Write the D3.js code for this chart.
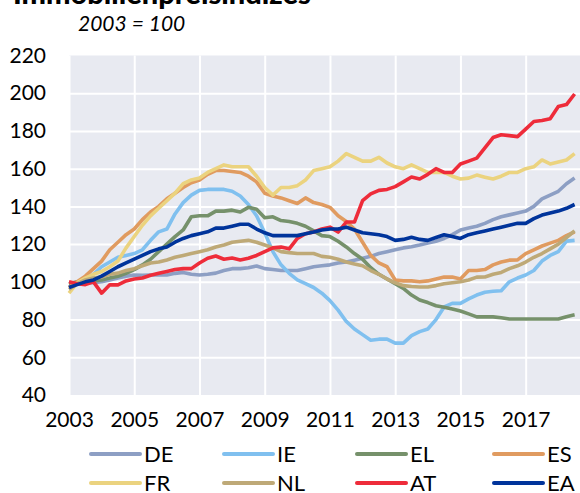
<!DOCTYPE html>
<html>
<head>
<meta charset="utf-8">
<script src="https://cdn.jsdelivr.net/npm/d3@7"></script>
<style>
  html, body { margin: 0; padding: 0; background: #ffffff; }
  svg { display: block; }
  text { font-family: Lato, "Open Sans", sans-serif; fill: #000; }
</style>
</head>
<body>
<div id="chart"></div>
<script>
// Residential property price indices, quarterly, 2003 = 100
const startYear = 2003;
const quarterCount = 63;
const yearTicks = [2003, 2005, 2007, 2009, 2011, 2013, 2015, 2017];
const valueTicks = [40, 60, 80, 100, 120, 140, 160, 180, 200, 220];

const seriesNames = ["DE", "IE", "EL", "ES", "FR", "NL", "AT", "EA"];
const seriesColors = ["#8d9fc4", "#80c0ef", "#76916b", "#e09b60", "#ebd37f", "#bea977", "#ee2c3a", "#00349b"];

const DE = [99, 99.5, 99.5, 99.5, 100, 101, 102, 103, 103.6, 103.5, 103.6, 103.6, 103.6, 104.5, 105, 104,
  103.6, 104, 104.6, 106, 107, 107, 107.5, 108.4, 107, 106.5, 106, 106, 106, 107, 108, 108.5,
  109, 110, 110.5, 111.5, 112.5, 113.5, 115, 116, 117, 118, 118.6, 119.5, 120.6, 121.5, 123, 125,
  127.5, 128.5, 129.5, 131, 133, 134.5, 135.5, 136.5, 137.5, 140, 144, 146, 148, 152, 155];
const IE = [97, 99, 101, 104, 108, 110.5, 113, 114, 115, 117, 122, 126.5, 128, 136, 142, 146,
  148.5, 149, 149, 149, 148, 145.5, 141, 135, 126, 116, 109, 104.5, 101, 99, 97, 94,
  90, 85, 79, 75, 72, 69, 69.6, 69.6, 67.5, 67.5, 71.5, 73.6, 75, 80, 86.7, 88.6,
  88.6, 91, 93, 94.5, 95, 95.3, 100, 102, 103.6, 106, 111, 114, 116, 121.6, 122];
const EL = [99, 100, 100, 100.5, 101, 102, 103, 104.5, 106.5, 109, 112, 116, 120, 124, 127.5, 134.5,
  135, 135, 137.5, 137.5, 138, 137, 139.5, 138.5, 134, 134.5, 132.5, 132, 131, 129.5, 127, 124.5,
  124, 121.5, 118.5, 115, 112, 107.5, 104, 101.5, 99, 96.5, 93, 90.4, 89, 87.3, 86.5, 85.6,
  84.5, 83, 81.4, 81.4, 81.4, 81, 80.3, 80.3, 80.3, 80.3, 80.3, 80.3, 80.3, 81.5, 82.5];
const ES = [97, 100, 103, 107, 111, 117, 121, 125, 128, 133, 137, 140, 144, 147, 150, 152.5,
  154, 157, 159, 159, 158.5, 158, 156, 153, 147, 145.5, 144.5, 143, 141.5, 144.5, 142, 141,
  139.5, 135, 132, 128, 121, 114, 110, 108, 101, 100.5, 100.5, 100, 100.5, 101.5, 102.5, 102.5,
  101.5, 106, 106, 106.5, 109, 110.5, 111.5, 111.6, 115, 117, 119, 120.5, 122, 124.5, 126.5];
const FR = [94, 99.5, 102, 104, 105.5, 108, 111, 118, 124, 130, 135, 139, 143, 147, 152, 154,
  155, 158, 160, 162, 161, 161, 161, 156, 150, 146, 150, 150, 151, 154, 159, 160,
  161, 164, 168, 166, 164, 164, 166, 163, 161, 160, 162, 160, 158, 158, 158, 156,
  154.5, 155, 156.6, 155.5, 154.5, 156, 158, 158, 160, 161, 164.6, 162.5, 163.5, 164.6, 168];
const NL = [96, 99, 101, 102, 102.5, 104, 104.6, 106, 107, 108.5, 110, 110.5, 111.6, 113, 114, 115,
  116, 117, 118.5, 119.5, 121, 121.5, 122, 121, 119.5, 118, 116, 115.5, 115, 115, 115, 113.5,
  113, 112, 110.5, 109.5, 108.5, 106, 104, 101.5, 99.5, 98, 97.5, 97.3, 97.3, 98, 99, 99.5,
  100, 101, 102.5, 102.6, 104, 105, 107, 108.5, 110.5, 113, 115, 117.5, 120, 123.5, 127];
const AT = [100, 99, 98.5, 100, 94, 98.4, 98.4, 100.5, 101.5, 102, 103.5, 104.5, 105.5, 106.5, 107, 107,
  110, 112.5, 113.7, 112, 112.6, 111.6, 112.5, 114, 116, 118, 118.5, 117.5, 123, 125.5, 126.4, 128,
  129, 126.4, 131.7, 131.7, 143, 146.6, 148.5, 149, 150.5, 153, 155.6, 154.5, 157, 160, 158, 158,
  162.5, 164, 165.6, 171, 176.5, 178, 177.5, 177, 181, 185, 185.5, 186.5, 193, 194, 199.6];
const EA = [97, 98.5, 100, 101, 103, 105.5, 108, 110, 112, 114, 116, 117.5, 118.5, 121, 123, 124.5,
  125.5, 126.5, 128.5, 128.5, 129.5, 130.5, 130.5, 128, 126, 124.5, 124.5, 124.5, 124.5, 125.5, 126.4, 127.5,
  128, 128, 129, 127.5, 126, 125.5, 125, 124, 122, 122.5, 123.6, 122.5, 122, 123.5, 125, 124,
  123, 125, 126, 127, 128, 129, 130, 131, 131, 133.5, 135.4, 136.5, 137.5, 139, 141];

const seriesValues = [DE, IE, EL, ES, FR, NL, AT, EA];
const quarters = d3.range(quarterCount).map(i => startYear + i / 4);

const W = 580, H = 493;
const plot = { left: 69, right: 586, top: 55.5, bottom: 395 };

const svg = d3.select("#chart").append("svg")
  .attr("width", W).attr("height", H);

const x = d3.scaleLinear()
  .domain([2003, 2018.5])
  .range([plot.left, plot.left + 15.5 * 32.62]);
const y = d3.scaleLinear()
  .domain([40, 220])
  .range([plot.bottom, plot.top]);

// Title (runs off the top edge) and base note
svg.append("text")
  .attr("x", 13).attr("y", 4)
  .style("font-size", "29px").style("font-weight", "900")
  .text("Immobilienpreisindizes");
svg.append("text")
  .attr("x", 78).attr("y", 31)
  .style("font-size", "21px").style("font-style", "italic")
  .text("2003 = 100");

// Plot background
svg.append("rect")
  .attr("x", plot.left).attr("y", plot.top)
  .attr("width", plot.right - plot.left).attr("height", plot.bottom - plot.top)
  .attr("fill", "#e8eaf1");

// Grid
const grid = svg.append("g");
grid.append("g")
  .attr("transform", `translate(${plot.left},0)`)
  .call(d3.axisLeft(y).tickValues(valueTicks.filter(v => v > 40 && v < 220))
    .tickSize(-(plot.right - plot.left)).tickFormat(""))
  .call(g => g.select(".domain").remove())
  .call(g => g.selectAll("line").attr("stroke", "#ffffff").attr("stroke-width", 2));
grid.append("g")
  .attr("transform", `translate(0,${plot.bottom})`)
  .call(d3.axisBottom(x).tickValues(yearTicks)
    .tickSize(-(plot.bottom - plot.top)).tickFormat(""))
  .call(g => g.select(".domain").remove())
  .call(g => g.selectAll("line").attr("stroke", "#ffffff").attr("stroke-width", 2));

// Axis labels
svg.append("g")
  .attr("transform", "translate(46,0)")
  .call(d3.axisLeft(y).tickValues(valueTicks).tickSize(0).tickPadding(0).tickFormat(d3.format("d")))
  .call(g => g.select(".domain").remove())
  .call(g => g.selectAll("text").style("font-size", "21px").style("font-family", "Lato, sans-serif"));
svg.append("g")
  .attr("transform", "translate(0,412)")
  .call(d3.axisBottom(x).tickValues(yearTicks).tickSize(0).tickPadding(0).tickFormat(d3.format("d")))
  .call(g => g.select(".domain").remove())
  .call(g => g.selectAll("text").attr("dy", "0.71em").style("font-size", "21px").style("font-family", "Lato, sans-serif"));

// Series lines
const line = d3.line()
  .x((d, i) => x(quarters[i]))
  .y(d => y(d));

svg.append("g")
  .selectAll("path")
  .data(seriesValues)
  .join("path")
  .attr("d", line)
  .attr("fill", "none")
  .attr("stroke", (d, i) => seriesColors[i])
  .attr("stroke-width", 3.6)
  .attr("stroke-linejoin", "round");

// Legend: two rows of four
const legendCols = [91, 224, 357, 494];
const legendRows = [454, 483];
const legend = svg.append("g")
  .selectAll("g")
  .data(seriesNames)
  .join("g")
  .attr("transform", (d, i) => `translate(${legendCols[i % 4]},${legendRows[Math.floor(i / 4)]})`);
legend.append("line")
  .attr("x1", 0).attr("x2", 49)
  .attr("stroke", (d, i) => seriesColors[i])
  .attr("stroke-width", 4)
  .attr("stroke-linecap", "round");
legend.append("text")
  .attr("x", 53).attr("dy", "0.36em")
  .style("font-size", "22px")
  .text(d => d);
</script>
</body>
</html>
